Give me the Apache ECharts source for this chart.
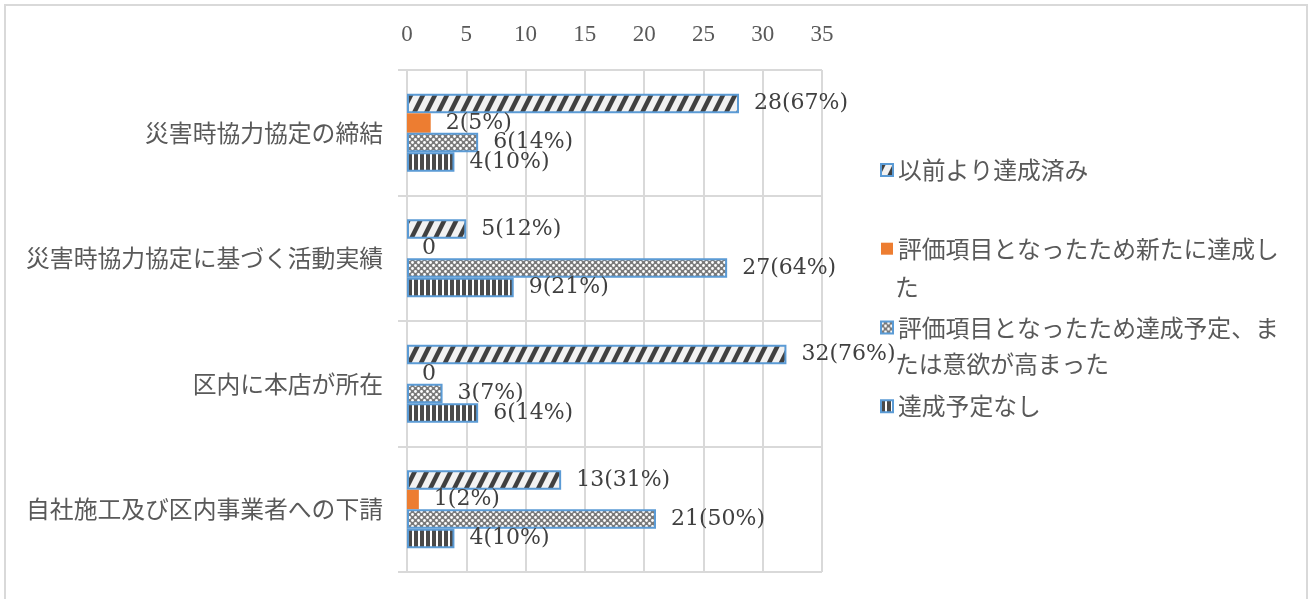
<!DOCTYPE html>
<html>
<head>
<meta charset="utf-8">
<script src="https://cdn.jsdelivr.net/npm/echarts@6/dist/echarts.min.js"></script>
<style>
html,body{margin:0;padding:0;background:#fff;}
#chart{width:1310px;height:599px;}
</style>
</head>
<body>
<div id="chart"></div>
<script>
// ---- data ----
var categories = ['災害時協力協定の締結', '災害時協力協定に基づく活動実績', '区内に本店が所在', '自社施工及び区内事業者への下請'];
var seriesNames = ['以前より達成済み', '評価項目となったため新たに達成した', '評価項目となったため達成予定、または意欲が高まった', '達成予定なし'];
var countsDone = [28, 5, 32, 13];
var pctDone = [67, 12, 76, 31];
var countsNew = [2, 0, 0, 1];
var pctNew = [5, 0, 0, 2];
var countsPlanned = [6, 27, 3, 21];
var pctPlanned = [14, 64, 7, 50];
var countsNone = [4, 9, 6, 4];
var pctNone = [10, 21, 14, 10];
var valueTicks = [0, 5, 10, 15, 20, 25, 30, 35];

// ---- patterns ----
function makeDiag() {
  var c = document.createElement('canvas');
  c.width = 12; c.height = 24;
  var g = c.getContext('2d');
  g.fillStyle = '#f2f2f2'; g.fillRect(0, 0, 12, 24);
  g.fillStyle = '#404040';
  [-12, 0, 12].forEach(function (o) {
    g.beginPath();
    g.moveTo(o + 0, 24); g.lineTo(o + 5, 24); g.lineTo(o + 17, 0); g.lineTo(o + 12, 0);
    g.closePath(); g.fill();
  });
  return c;
}
function makeDots() {
  var c = document.createElement('canvas');
  c.width = 6; c.height = 6;
  var g = c.getContext('2d');
  g.fillStyle = '#7a7a7a'; g.fillRect(0, 0, 6, 6);
  g.fillStyle = '#ffffff';
  g.beginPath(); g.arc(1.5, 1.5, 1.4, 0, Math.PI * 2); g.fill();
  g.beginPath(); g.arc(4.5, 4.5, 1.4, 0, Math.PI * 2); g.fill();
  return c;
}
function makeVert() {
  var c = document.createElement('canvas');
  c.width = 6; c.height = 6;
  var g = c.getContext('2d');
  g.fillStyle = '#ffffff'; g.fillRect(0, 0, 6, 6);
  g.fillStyle = '#4a4a4a'; g.fillRect(0, 0, 4, 6);
  return c;
}
var diagPat = { image: makeDiag(), repeat: 'repeat' };
var dotPat = { image: makeDots(), repeat: 'repeat' };
var vertPat = { image: makeVert(), repeat: 'repeat' };

var serifFont = "'Liberation Serif', 'Noto Sans CJK JP', serif";
var labelFont = "'DejaVu Serif', 'Liberation Serif', serif";
var jpFont = "'Noto Sans CJK JP', sans-serif";

function labelFor(counts, pcts) {
  return function (p) {
    var v = counts[p.dataIndex];
    return v === 0 ? '0' : v + '(' + pcts[p.dataIndex] + '%)';
  };
}

function mkSeries(name, counts, pcts, color, border) {
  return {
    name: name,
    type: 'bar',
    data: counts,
    barGap: '0%',
    barCategoryGap: '38%',
    itemStyle: {
      color: color,
      borderColor: border ? '#5B9BD5' : color,
      borderWidth: border ? 2 : 0
    },
    label: {
      show: true,
      position: 'right',
      distance: 15,
      color: '#404040',
      fontSize: 22,
      fontFamily: labelFont,
      formatter: labelFor(counts, pcts)
    }
  };
}

var chart = echarts.init(document.getElementById('chart'), null, { renderer: 'canvas' });
var option = {
  animation: false,
  backgroundColor: '#ffffff',
  grid: { left: 407, right: 488, top: 70, bottom: 27, containLabel: false },
  xAxis: {
    type: 'value',
    position: 'top',
    min: valueTicks[0],
    max: valueTicks[valueTicks.length - 1],
    interval: valueTicks[1] - valueTicks[0],
    axisLine: { show: false },
    axisTick: { show: false },
    splitLine: { show: true, lineStyle: { color: '#d9d9d9', width: 2 } },
    axisLabel: { color: '#595959', fontSize: 23, fontFamily: serifFont, margin: 24 }
  },
  yAxis: {
    type: 'category',
    data: categories,
    inverse: true,
    axisLine: { show: true, lineStyle: { color: '#d9d9d9', width: 2 } },
    axisTick: { show: true, length: 9, lineStyle: { color: '#d9d9d9', width: 2 } },
    splitLine: { show: true, lineStyle: { color: '#d9d9d9', width: 2 } },
    axisLabel: { color: '#595959', fontSize: 23.8, fontFamily: jpFont, margin: 24 }
  },
  legend: {
    orient: 'vertical',
    left: 875,
    top: 153,
    itemWidth: 12,
    itemHeight: 12,
    itemGap: 55,
    icon: 'rect',
    textStyle: { color: '#595959', fontSize: 23.8, fontFamily: jpFont, lineHeight: 22 },
    formatter: function (n) {
      if (n === seriesNames[1]) return '評価項目となったため新たに達成し';
      if (n === seriesNames[2]) return '評価項目となったため達成予定、ま';
      return n;
    },
    data: seriesNames
  },
  graphic: [
    { type: 'rect', silent: true, shape: { x: 5, y: 5, width: 1302, height: 620 },
      style: { fill: 'none', stroke: '#d9d9d9', lineWidth: 2 } },
    { type: 'text', silent: true, left: 895, top: 275,
      style: { text: 'た', fill: '#595959', fontSize: 23.8, fontFamily: jpFont } },
    { type: 'text', silent: true, left: 895, top: 352,
      style: { text: 'たは意欲が高まった', fill: '#595959', fontSize: 23.8, fontFamily: jpFont } }
  ],
  series: [
    mkSeries(seriesNames[0], countsDone, pctDone, diagPat, true),
    mkSeries(seriesNames[1], countsNew, pctNew, '#ED7D31', false),
    mkSeries(seriesNames[2], countsPlanned, pctPlanned, dotPat, true),
    mkSeries(seriesNames[3], countsNone, pctNone, vertPat, true)
  ]
};
chart.setOption(option);
</script>
</body>
</html>
